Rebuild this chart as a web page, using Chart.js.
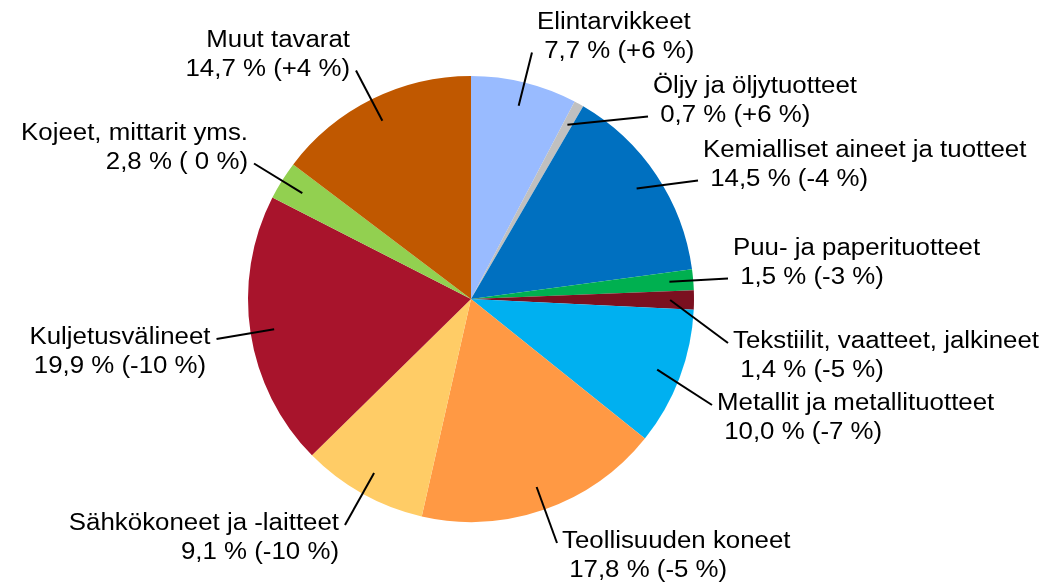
<!DOCTYPE html>
<html>
<head>
<meta charset="utf-8">
<script src="https://cdn.jsdelivr.net/npm/chart.js@4/dist/chart.umd.min.js"></script>
<style>
  html, body { margin: 0; padding: 0; background: #ffffff; }
  #wrap { width: 1051px; height: 582px; position: relative; }
</style>
</head>
<body>
<div id="wrap"><canvas id="c" width="1051" height="582"></canvas></div>
<script>
// ---- data ----
const categories = [
  "Elintarvikkeet",
  "Öljy ja öljytuotteet",
  "Kemialliset aineet ja tuotteet",
  "Puu- ja paperituotteet",
  "Tekstiilit, vaatteet, jalkineet",
  "Metallit ja metallituotteet",
  "Teollisuuden koneet",
  "Sähkökoneet ja -laitteet",
  "Kuljetusvälineet",
  "Kojeet, mittarit yms.",
  "Muut tavarat"
];
const shares = [7.7, 0.7, 14.5, 1.5, 1.4, 10.0, 17.8, 9.1, 19.9, 2.8, 14.7];
const changes = [6, 6, -4, -3, -5, -7, -5, -10, -10, 0, 4];

// ---- styles / layout ----
const colors = ["#99BBFF", "#C0C0C0", "#0070C0", "#00B050", "#7B1020", "#00B0F0",
                "#FF9944", "#FFCC66", "#A8142C", "#92D050", "#C05800"];
// label anchor: x, baseline y of first line, alignment, which line the leader attaches to
const labelLayout = [
  {x: 537, y: 29,  align: "left",   line: 2},
  {x: 653, y: 93,  align: "left",   line: 2},
  {x: 703, y: 157, align: "left",   line: 2},
  {x: 733, y: 255, align: "left",   line: 2},
  {x: 733, y: 348, align: "left",   line: 1},
  {x: 717, y: 410, align: "left",   line: 1},
  {x: 562, y: 548, align: "left",   line: 1},
  {x: 339, y: 530, align: "right",  line: 1},
  {x: 120, y: 344, align: "center", line: 1},
  {x: 248, y: 140, align: "right",  line: 2},
  {x: 350, y: 47,  align: "right",  line: 2}
];
const FONT_SIZE = 23.5, SX = 1.1, LINE_H = 28.5;

function fmtShare(v) { return v.toFixed(1).replace(".", ","); }
function fmtChange(c) { return c > 0 ? "+" + c : (c < 0 ? "-" + Math.abs(c) : " 0"); }

const labelPlugin = {
  id: "outLabels",
  afterDatasetsDraw(chart) {
    const ctx = chart.ctx;
    const meta = chart.getDatasetMeta(0);
    ctx.save();
    ctx.font = FONT_SIZE + "px 'Liberation Sans', Arial, sans-serif";
    ctx.fillStyle = "#000";
    ctx.textBaseline = "alphabetic";
    meta.data.forEach((arc, i) => {
      const L = labelLayout[i];
      const lead = L.align === "left" ? " " : "";
      const lines = [categories[i], lead + fmtShare(shares[i]) + " % (" + fmtChange(changes[i]) + " %)"];
      const boxes = [];
      lines.forEach((t, k) => {
        const w = ctx.measureText(t).width * SX;
        let left;
        if (L.align === "left") left = L.x;
        else if (L.align === "right") left = L.x - w;
        else left = L.x - w / 2;
        const by = L.y + k * LINE_H;
        ctx.save();
        ctx.translate(left, by);
        ctx.scale(SX, 1);
        ctx.textAlign = "left";
        ctx.fillText(t, 0, 0);
        ctx.restore();
        boxes.push({left: left, right: left + w, y: by});
      });
      // leader line
      const p = arc.getProps(["x", "y", "startAngle", "endAngle", "outerRadius"], true);
      const mid = (p.startAngle + p.endAngle) / 2;
      const r = p.outerRadius * 0.893;
      const ix = p.x + Math.cos(mid) * r, iy = p.y + Math.sin(mid) * r;
      const b = boxes[L.line - 1];
      const ox = (ix > b.right) ? b.right + 6 : b.left - 5;
      const oy = b.y - 5;
      ctx.beginPath();
      ctx.moveTo(ox, oy);
      ctx.lineTo(ix, iy);
      ctx.strokeStyle = "#000";
      ctx.lineWidth = 2;
      ctx.stroke();
    });
    ctx.restore();
  }
};

new Chart(document.getElementById("c"), {
  type: "pie",
  data: {
    labels: categories,
    datasets: [{
      data: shares,
      backgroundColor: colors,
      borderWidth: 0
    }]
  },
  options: {
    responsive: false,
    animation: false,
    layout: { padding: { top: 76, bottom: 60, left: 0, right: 109 } },
    plugins: { legend: { display: false }, tooltip: { enabled: false } }
  },
  plugins: [labelPlugin]
});
</script>
</body>
</html>
